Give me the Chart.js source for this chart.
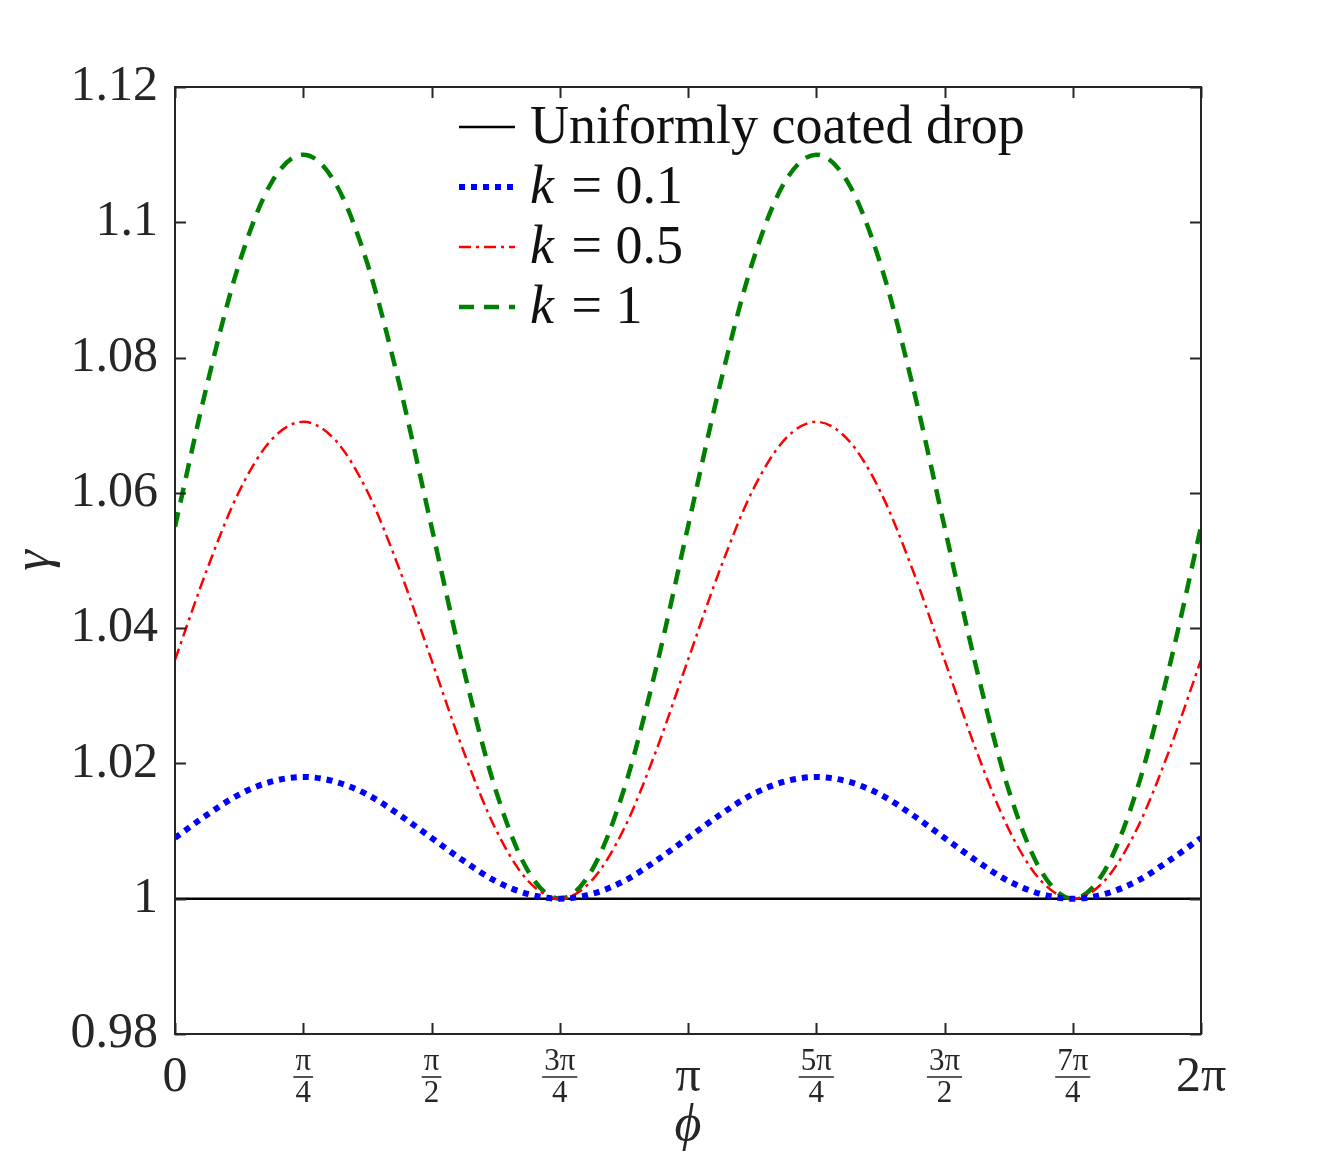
<!DOCTYPE html>
<html>
<head>
<meta charset="utf-8">
<script src="https://cdn.jsdelivr.net/npm/chart.js@4.4.1/dist/chart.umd.min.js"></script>
<style>
  body { margin: 0; background: #ffffff; }
  #wrap { width: 1330px; height: 1163px; position: relative; }
</style>
</head>
<body>
<div id="wrap"><canvas id="gammaChart"></canvas></div>
<script>
// DATOS
const PI = Math.PI;
// phi sampled every pi/16 from 0 to 2pi
const phiSteps = 16;
const uniformGamma = [1, 1];
const gammaK01 = [1.009, 1.0124, 1.0154, 1.0173, 1.018, 1.0173, 1.0154, 1.0124, 1.009, 1.0056, 1.0026, 1.0007, 1.0,
  1.0007, 1.0026, 1.0056, 1.009, 1.0124, 1.0154, 1.0173, 1.018, 1.0173, 1.0154, 1.0124, 1.009, 1.0056, 1.0026,
  1.0007, 1.0, 1.0007, 1.0026, 1.0056, 1.009];
const gammaK05 = [1.0353, 1.0487, 1.0602, 1.0678, 1.0705, 1.0678, 1.0602, 1.0487, 1.0353, 1.0218, 1.0103, 1.0027, 1.0,
  1.0027, 1.0103, 1.0218, 1.0353, 1.0487, 1.0602, 1.0678, 1.0705, 1.0678, 1.0602, 1.0487, 1.0353, 1.0218, 1.0103,
  1.0027, 1.0, 1.0027, 1.0103, 1.0218, 1.0353];
const gammaK1 = [1.055, 1.076, 1.0939, 1.1058, 1.11, 1.1058, 1.0939, 1.076, 1.055, 1.034, 1.0161, 1.0042, 1.0,
  1.0042, 1.0161, 1.034, 1.055, 1.076, 1.0939, 1.1058, 1.11, 1.1058, 1.0939, 1.076, 1.055, 1.034, 1.0161,
  1.0042, 1.0, 1.0042, 1.0161, 1.034, 1.055];
const xTickLabels = ['0', ['π', '4'], ['π', '2'], ['3π', '4'], 'π', ['5π', '4'], ['3π', '2'], ['7π', '4'], '2π'];
const yTickValues = [0.98, 1.0, 1.02, 1.04, 1.06, 1.08, 1.1, 1.12];
const yTickLabels = ['0.98', '1', '1.02', '1.04', '1.06', '1.08', '1.1', '1.12'];
const legendNames = ['Uniformly coated drop', 'k = 0.1', 'k = 0.5', 'k = 1'];

const SERIF = '"Liberation Serif", "DejaVu Serif", serif';
const AXIS = '#262626';

function toPoints(values) {
  return values.map((v, i) => ({ x: i * PI / phiSteps, y: v }));
}

// box, inward ticks, fraction bars and legend
const decorPlugin = {
  id: 'decor',
  afterDraw(chart) {
    const { ctx, chartArea: a, scales } = chart;
    const x = scales.x, y = scales.y;
    ctx.save();
    ctx.strokeStyle = AXIS;
    ctx.lineWidth = 2;
    ctx.strokeRect(a.left, a.top, a.right - a.left, a.bottom - a.top);
    const tl = 11;
    ctx.beginPath();
    x.ticks.forEach(t => {
      const px = Math.round(x.getPixelForValue(t.value)) + 0.5;
      ctx.moveTo(px, a.bottom); ctx.lineTo(px, a.bottom - tl);
      ctx.moveTo(px, a.top); ctx.lineTo(px, a.top + tl);
    });
    y.ticks.forEach(t => {
      const py = Math.round(y.getPixelForValue(t.value)) + 0.5;
      ctx.moveTo(a.left, py); ctx.lineTo(a.left + tl, py);
      ctx.moveTo(a.right, py); ctx.lineTo(a.right - tl, py);
    });
    ctx.stroke();

    // fraction bars under the numerators
    ctx.font = '31px ' + SERIF;
    ctx.lineWidth = 1.6;
    ctx.strokeStyle = '#262626';
    x.ticks.forEach((t, i) => {
      const lab = xTickLabels[i];
      if (!Array.isArray(lab)) return;
      const px = x.getPixelForValue(t.value);
      const w = Math.max(ctx.measureText(lab[0]).width, ctx.measureText(lab[1]).width) + 4;
      ctx.beginPath();
      ctx.moveTo(px - w / 2, a.bottom + 43);
      ctx.lineTo(px + w / 2, a.bottom + 43);
      ctx.stroke();
    });

    // legend
    const lx0 = 459, lx1 = 515, tx = 530;
    const rows = [127, 187, 247, 307];
    chart.data.datasets.forEach((ds, i) => {
      const ry = rows[i];
      ctx.beginPath();
      ctx.strokeStyle = ds.borderColor;
      ctx.lineWidth = ds.borderWidth;
      ctx.setLineDash(ds.borderDash || []);
      ctx.moveTo(lx0, ry); ctx.lineTo(lx1, ry);
      ctx.stroke();
      ctx.setLineDash([]);
      ctx.fillStyle = '#111111';
      ctx.textBaseline = 'middle';
      ctx.textAlign = 'left';
      const name = legendNames[i];
      if (name.startsWith('k')) {
        ctx.font = 'italic 54px ' + SERIF;
        ctx.fillText('k', tx, ry + 2);
        const kw = ctx.measureText('k').width + 4;
        ctx.font = '54px ' + SERIF;
        ctx.fillText(name.slice(1), tx + kw, ry + 2);
      } else {
        ctx.font = '54px ' + SERIF;
        ctx.fillText(name, tx, ry + 2);
      }
    });
    ctx.restore();
  }
};

document.addEventListener('DOMContentLoaded', function() {
  const ctx = document.getElementById('gammaChart').getContext('2d');

  const gammaChart = new Chart(ctx, {
    type: 'line',
    data: {
      datasets: [{
        label: legendNames[0],
        data: [{ x: 0, y: uniformGamma[0] }, { x: 2 * PI, y: uniformGamma[1] }],
        borderColor: '#000000',
        borderWidth: 2.5,
        pointRadius: 0,
        order: 3
      }, {
        label: legendNames[1],
        data: toPoints(gammaK01),
        borderColor: '#0000ff',
        borderWidth: 6,
        borderDash: [6, 6],
        pointRadius: 0,
        cubicInterpolationMode: 'monotone',
        order: 0
      }, {
        label: legendNames[2],
        data: toPoints(gammaK05),
        borderColor: '#ff0000',
        borderWidth: 2.5,
        borderDash: [12, 5, 3, 5],
        pointRadius: 0,
        cubicInterpolationMode: 'monotone',
        order: 1
      }, {
        label: legendNames[3],
        data: toPoints(gammaK1),
        borderColor: '#008000',
        borderWidth: 4.5,
        borderDash: [15, 10],
        pointRadius: 0,
        cubicInterpolationMode: 'monotone',
        order: 2
      }]
    },
    options: {
      responsive: true,
      maintainAspectRatio: false,
      animation: false,
      layout: {
        padding: { top: 87, right: 129, bottom: 0, left: 0 }
      },
      plugins: {
        legend: { display: false },
        tooltip: { enabled: false }
      },
      scales: {
        x: {
          type: 'linear',
          min: 0,
          max: 2 * PI,
          grid: { display: false, drawTicks: false },
          border: { display: false },
          afterBuildTicks: (scale) => {
            scale.ticks = xTickLabels.map((l, i) => ({ value: i * PI / 4 }));
          },
          afterFit: (scale) => { scale.height = 129; },
          ticks: {
            autoSkip: false,
            maxRotation: 0,
            padding: 28,
            color: '#262626',
            crossAlign: 'center',
            font: (c) => Array.isArray(xTickLabels[c.index])
              ? { family: SERIF, size: 31, lineHeight: 1.03 }
              : { family: SERIF, size: 50, lineHeight: 0.64 },
            callback: (v, i) => xTickLabels[i]
          },
          title: {
            display: true,
            text: 'ϕ',
            color: '#262626',
            font: { family: SERIF, size: 52, style: 'italic' },
            padding: { top: 0, bottom: 5 }
          }
        },
        y: {
          min: 0.98,
          max: 1.12,
          grid: { display: false, drawTicks: false },
          border: { display: false },
          afterBuildTicks: (scale) => {
            scale.ticks = yTickValues.map(v => ({ value: v }));
          },
          afterFit: (scale) => { scale.width = 175; },
          ticks: {
            padding: 17,
            color: '#262626',
            font: { family: SERIF, size: 50 },
            callback: (v, i) => yTickLabels[i]
          },
          title: {
            display: true,
            text: 'γ',
            color: '#262626',
            font: { family: SERIF, size: 52, style: 'italic' },
            padding: { top: 4, bottom: 0 }
          }
        }
      }
    },
    plugins: [decorPlugin]
  });
});
</script>
</body>
</html>
